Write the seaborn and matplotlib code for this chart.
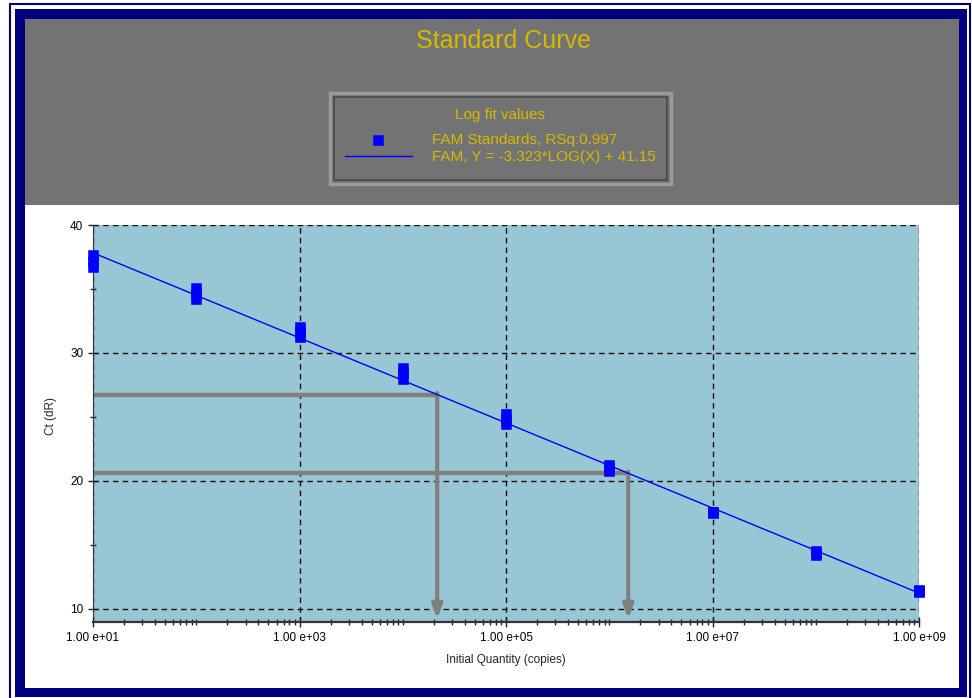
import matplotlib
matplotlib.use("Agg")
import numpy as np
import pandas as pd
import matplotlib.pyplot as plt
import seaborn as sns
from matplotlib.patches import Rectangle
from matplotlib.ticker import FixedLocator, LogLocator, MultipleLocator, FuncFormatter

# standards (copies) and replicate Ct values
std_qty = [1e1, 1e2, 1e3, 1e4, 1e5, 1e6, 1e7, 1e8, 1e9]
ct_rep1 = [37.65, 35.05, 32.0, 28.8, 25.2, 21.25, 17.6, 14.5, 11.5]
ct_rep2 = [37.2, 34.6, 31.65, 28.4, 24.85, 21.0, 17.55, 14.35, 11.4]
ct_rep3 = [36.75, 34.2, 31.25, 28.0, 24.45, 20.8, 17.5, 14.2, 11.35]

# log fit
slope = -3.323
intercept = 41.15
rsq = 0.997

# unknown samples (Ct) read back through the curve
unk_ct = [26.75, 20.6]

W, H = 972, 698
navy = "#000080"
gold = "#D4BA00"
header_gray = "#737373"

def fx(px):
    return px / W

def fy(py):
    return 1 - py / H

df = pd.DataFrame({
    "qty": std_qty * 3,
    "ct": ct_rep1 + ct_rep2 + ct_rep3,
})

sns.set_style("white")
plt.rcParams["font.family"] = ["Liberation Sans", "DejaVu Sans"]

fig = plt.figure(figsize=(9.72, 6.98), dpi=100)
fig.patch.set_facecolor("white")

# frame and panels
def rect(x0, y0, x1, y1, **kw):
    r = Rectangle((fx(x0), fy(y1)), fx(x1) - fx(x0), fy(y0) - fy(y1),
                  transform=fig.transFigure, **kw)
    fig.patches.append(r)
    return r

rect(10, 4, 970, 702, fill=False, edgecolor=navy, lw=1.5, zorder=-5)
rect(15, 9, 967, 697, facecolor=navy, edgecolor="none", zorder=-4)
rect(25, 19, 959, 688, facecolor="white", edgecolor="none", zorder=-3)
rect(25, 19, 959, 205, facecolor=header_gray, edgecolor="none", zorder=-2)
# legend box with bevel
rect(330, 93, 671, 184, facecolor=header_gray, edgecolor="#9a9a9a", lw=2.5, zorder=-1)
rect(334, 97, 667, 180, fill=False, edgecolor="#4a4a4a", lw=1.2, zorder=-1)

ax = fig.add_axes([fx(93), fy(622), fx(919) - fx(93), fy(225) - fy(622)])
ax.set_facecolor("#98C6D5")
ax.set_xscale("log")

sns.scatterplot(data=df, x="qty", y="ct", marker="s", s=48, color="#0000FF",
                edgecolor="#0000FF", linewidth=0.4, ax=ax, zorder=4, clip_on=False)

xs = np.logspace(1, 9, 60)
sns.lineplot(x=xs, y=slope * np.log10(xs) + intercept, color="#0000FF", lw=1,
             ax=ax, zorder=3)

ylow = 8.98
for c in unk_ct:
    q = 10 ** ((c - intercept) / slope)
    ax.plot([10, q], [c, c], color="#808080", lw=3.2, solid_capstyle="butt", zorder=2)
    ax.annotate("", xy=(q, ylow + 0.25), xytext=(q, c + 0.12),
                arrowprops=dict(arrowstyle="-|>,head_length=0.8,head_width=0.3",
                                color="#808080", lw=3, shrinkA=0, shrinkB=0),
                zorder=2)

ax.set_xlim(10, 1e9)
ax.set_ylim(ylow, 40)

ax.xaxis.set_major_locator(FixedLocator([1e1, 1e3, 1e5, 1e7, 1e9]))
ax.xaxis.set_minor_locator(LogLocator(base=10, subs=np.arange(1, 10), numticks=50))
ax.xaxis.set_major_formatter(FuncFormatter(lambda v, _: f"{v:.2e}".replace("e", " e")))
ax.xaxis.set_minor_formatter(FuncFormatter(lambda v, _: ""))
ax.yaxis.set_major_locator(MultipleLocator(10))
ax.yaxis.set_minor_locator(MultipleLocator(5))

ax.grid(True, which="major", color="#111111", linestyle=(0, (4, 3)), lw=1)
ax.tick_params(axis="both", which="major", direction="inout", length=7, width=1,
               colors="#222222", labelcolor="black", labelsize=8.5, bottom=True, left=True)
ax.tick_params(axis="both", which="minor", direction="inout", length=4, width=1,
               colors="#222222", bottom=True, left=True)
ax.tick_params(axis="x", which="major", pad=4)

for s in ["top", "right"]:
    ax.spines[s].set_visible(False)
ax.spines["left"].set_color("#333333")
ax.spines["bottom"].set_color("#333333")
ax.spines["bottom"].set_linewidth(1.6)

ax.set_xlabel("Initial Quantity (copies)", fontsize=8.5)
ax.set_ylabel("Ct (dR)", fontsize=8.5)
ax.xaxis.set_label_coords(0.5, -0.08)
ax.yaxis.set_label_coords(-0.044, 0.52)

fig.text(fx(503), fy(41), "Standard Curve", ha="center", va="center",
         color=gold, fontsize=18)

handles = [ax.collections[0], ax.lines[0]]
labels = [f"FAM Standards, RSq:{rsq}", f"FAM, Y = {slope}*LOG(X) + {intercept}"]
leg = fig.legend(handles, labels, loc="center", bbox_to_anchor=(fx(500), fy(136)),
                 frameon=False, title="Log fit values", fontsize=11, title_fontsize=11,
                 labelcolor=gold, handlelength=4.4, handletextpad=1.3,
                 labelspacing=0.25)
leg.get_title().set_color(gold)
leg._legend_box.sep = 8

fig.savefig("out.png", dpi=100)
